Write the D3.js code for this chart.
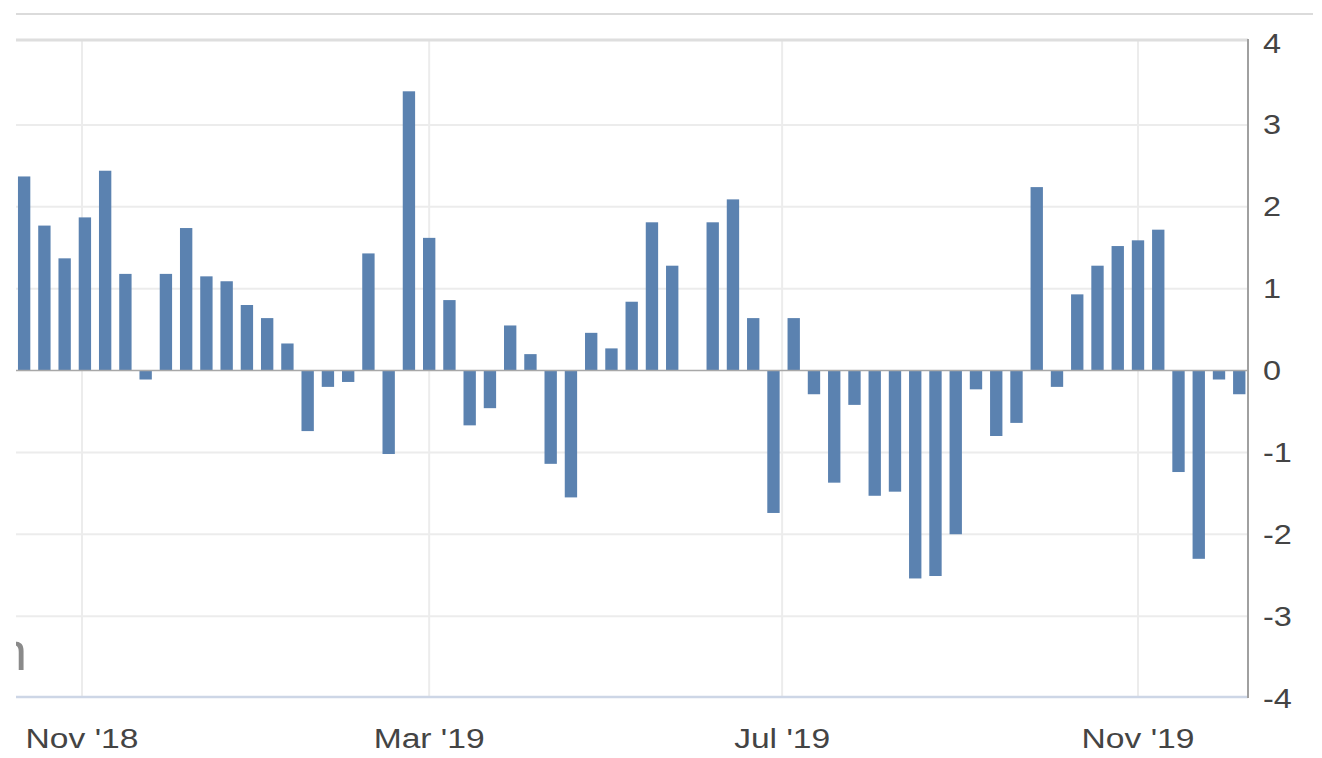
<!DOCTYPE html>
<html>
<head>
<meta charset="utf-8">
<script src="https://cdn.jsdelivr.net/npm/d3@7"></script>
<style>
  html, body { margin: 0; padding: 0; background: #fff; }
  svg { display: block; }
  text { font-family: "Liberation Sans", Arial, sans-serif; }
</style>
</head>
<body>
<svg id="chart" width="1322" height="758"></svg>
<script>
// ---- data ----
const firstWeek = "2018-10-12";
const values = [2.37, 1.77, 1.37, 1.87, 2.44, 1.18, -0.11, 1.18, 1.74, 1.15,
                1.09, 0.80, 0.64, 0.33, -0.74, -0.20, -0.14, 1.43, -1.02, 3.41,
                1.62, 0.86, -0.67, -0.46, 0.55, 0.20, -1.14, -1.55, 0.46, 0.27,
                0.84, 1.81, 1.28, null, 1.81, 2.09, 0.64, -1.74, 0.64, -0.29,
                -1.37, -0.42, -1.53, -1.48, -2.54, -2.51, -2.00, -0.23, -0.80, -0.64,
                2.24, -0.20, 0.93, 1.28, 1.52, 1.59, 1.72, -1.24, -2.30, -0.11, -0.29];
const xTickDates = ["2018-11-01", "2019-03-01", "2019-07-01", "2019-11-01"];
const xTickLabels = ["Nov '18", "Mar '19", "Jul '19", "Nov '19"];
const yTicks = [4, 3, 2, 1, 0, -1, -2, -3, -4];

// ---- layout ----
const plotLeft = 16, plotRight = 1248, plotTop = 40, plotBottom = 697;
const svg = d3.select("#chart");

const parse = d3.utcParse("%Y-%m-%d");
const start = parse(firstWeek);
const data = values.map((v, i) => ({ date: d3.utcDay.offset(start, 7 * i), value: v }));

const x = d3.scaleUtc()
  .domain([parse("2018-11-01"), parse("2019-11-01")])
  .range([82, 1138]);
const y = d3.scaleLinear().domain([-4, 4]).range([698, 43]);

const barW = (x(d3.utcDay.offset(start, 7)) - x(start)) * 0.61;

// top rule
svg.append("line").attr("x1", 16).attr("x2", 1313).attr("y1", 14).attr("y2", 14)
  .attr("stroke", "#cfcfcf").attr("stroke-width", 1.5);

svg.append("defs").append("clipPath").attr("id", "clip")
  .append("rect").attr("x", plotLeft).attr("y", plotTop - 4)
  .attr("width", plotRight - plotLeft).attr("height", plotBottom - plotTop + 8);

const plot = svg.append("g").attr("clip-path", "url(#clip)");

// horizontal gridlines
plot.selectAll("line.hgrid").data(yTicks.filter(t => t !== 0 && t !== -4 && t !== 4)).enter()
  .append("line").attr("class", "hgrid")
  .attr("x1", plotLeft).attr("x2", plotRight)
  .attr("y1", d => y(d)).attr("y2", d => y(d))
  .attr("stroke", "#ececec").attr("stroke-width", 2);

// vertical gridlines
plot.selectAll("line.vgrid").data(xTickDates).enter()
  .append("line").attr("class", "vgrid")
  .attr("x1", d => x(parse(d))).attr("x2", d => x(parse(d)))
  .attr("y1", plotTop).attr("y2", plotBottom)
  .attr("stroke", "#ececec").attr("stroke-width", 2);

// faint glyph cut at the left edge (as in the reference)
plot.append("text").attr("x", -3).attr("y", 670)
  .attr("font-size", 54).attr("fill", "#8a8a8a").text("n");

// bars
plot.selectAll("rect.bar").data(data.filter(d => d.value !== null)).enter()
  .append("rect").attr("class", "bar")
  .attr("x", d => x(d.date) - barW / 2)
  .attr("width", barW)
  .attr("y", d => Math.min(y(d.value), y(0)))
  .attr("height", d => Math.abs(y(d.value) - y(0)))
  .attr("fill", "#5b82b0");

// zero line
svg.append("line").attr("x1", plotLeft).attr("x2", plotRight)
  .attr("y1", y(0)).attr("y2", y(0))
  .attr("stroke", "#a8a8a8").attr("stroke-width", 1.5);

// plot top border
svg.append("line").attr("x1", plotLeft).attr("x2", plotRight)
  .attr("y1", plotTop).attr("y2", plotTop)
  .attr("stroke", "#dedede").attr("stroke-width", 3);

// bottom axis line
svg.append("line").attr("x1", plotLeft).attr("x2", plotRight)
  .attr("y1", plotBottom).attr("y2", plotBottom)
  .attr("stroke", "#cdd6e6").attr("stroke-width", 2.5);

// right axis line
svg.append("line").attr("x1", plotRight).attr("x2", plotRight)
  .attr("y1", plotTop - 1).attr("y2", plotBottom + 1)
  .attr("stroke", "#a0a0a0").attr("stroke-width", 2);

// y labels
svg.selectAll("text.ylab").data(yTicks).enter()
  .append("text").attr("class", "ylab")
  .attr("transform", d => `translate(1263,${y(d) + 9.5}) scale(1.2,1)`)
  .attr("font-size", 27).attr("fill", "#444")
  .text(d => d < 0 ? "-" + Math.abs(d) : String(d));

// x labels
svg.selectAll("text.xlab").data(xTickDates).enter()
  .append("text").attr("class", "xlab")
  .attr("transform", d => `translate(${x(parse(d))},748) scale(1.2,1)`)
  .attr("text-anchor", "middle")
  .attr("font-size", 28).attr("fill", "#444")
  .text((d, i) => xTickLabels[i]);
</script>
</body>
</html>
